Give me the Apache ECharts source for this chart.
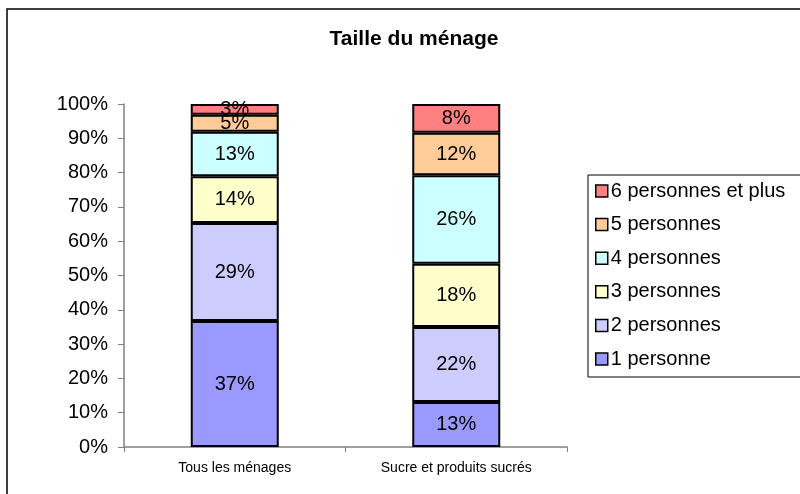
<!DOCTYPE html>
<html>
<head>
<meta charset="utf-8">
<script src="https://cdn.jsdelivr.net/npm/echarts@6/dist/echarts.min.js"></script>
<style>
  html, body { margin: 0; padding: 0; background: #fff; }
  #main { width: 800px; height: 494px; }
</style>
</head>
<body>
<div id="main"></div>
<script>
// categories and shares (%), each bar sums to 100
const categories = ['Tous les ménages', 'Sucre et produits sucrés']
const seriesNames = ['1 personne', '2 personnes', '3 personnes', '4 personnes', '5 personnes', '6 personnes et plus']
const p1 = [36.7, 13.1]
const p2 = [28.6, 21.9]
const p3 = [13.6, 18.4]
const p4 = [13.0, 25.8]
const p5 = [5.0, 12.4]
const p6 = [3.1, 8.4]
const yTicks = [0, 10, 20, 30, 40, 50, 60, 70, 80, 90, 100]

const colors = ['#9999FF', '#CCCCFF', '#FFFFCC', '#CCFFFF', '#FFCC99', '#FF8080']
const values = [p1, p2, p3, p4, p5, p6]
const font = '"Liberation Sans", Arial, Helvetica, sans-serif'

const myChart = echarts.init(document.getElementById('main'))

const series = seriesNames.map((name, i) => ({
  name: name,
  type: 'bar',
  stack: 'total',
  barWidth: 88,
  data: values[i],
  itemStyle: {
    color: colors[i],
    borderColor: '#000',
    borderWidth: 2,
  },
  label: {
    show: true,
    position: 'inside',
    color: '#000',
    fontFamily: font,
    fontSize: 20,
    formatter: p => Math.round(p.value) + '%',
  },
  emphasis: { disabled: true },
}))

const option = {
  animation: false,
  backgroundColor: '#fff',
  textStyle: { fontFamily: font },
  title: {
    text: 'Taille du ménage',
    left: 409,
    top: 24,
    textAlign: 'center',
    textStyle: { fontFamily: font, fontSize: 21, fontWeight: 'bold', color: '#000' },
  },
  graphic: [
    {
      type: 'rect',
      shape: { x: 7, y: 9, width: 820, height: 520 },
      style: { fill: 'none', stroke: '#000', lineWidth: 1.5 },
      z: -1,
    },
  ],
  legend: {
    orient: 'vertical',
    left: 588,
    top: 175,
    padding: [6, 30, 8, 7],
    itemGap: 13.6,
    itemWidth: 12,
    itemHeight: 12,
    icon: 'rect',
    borderColor: '#000',
    borderWidth: 1,
    data: seriesNames.slice().reverse(),
    itemStyle: { borderColor: '#000', borderWidth: 1.5 },
    textStyle: { fontFamily: font, fontSize: 20, color: '#000', padding: [0, 0, 0, -2] },
  },
  grid: {
    left: 124,
    right: 233,
    top: 104,
    bottom: 47,
  },
  xAxis: {
    type: 'category',
    data: categories,
    axisLine: { lineStyle: { color: '#808080', width: 1.5 } },
    axisTick: { show: true, length: 5, lineStyle: { color: '#808080' } },
    axisLabel: { color: '#000', fontFamily: font, fontSize: 14, margin: 14 },
  },
  yAxis: {
    type: 'value',
    min: yTicks[0],
    max: yTicks[yTicks.length - 1],
    interval: 10,
    axisLine: { show: true, lineStyle: { color: '#808080', width: 1.5 } },
    axisTick: { show: true, length: 6, lineStyle: { color: '#808080' } },
    splitLine: { show: false },
    axisLabel: {
      color: '#000',
      fontFamily: font,
      fontSize: 20,
      margin: 16,
      formatter: v => v + '%',
    },
  },
  series: series,
}

option && myChart.setOption(option)
</script>
</body>
</html>
